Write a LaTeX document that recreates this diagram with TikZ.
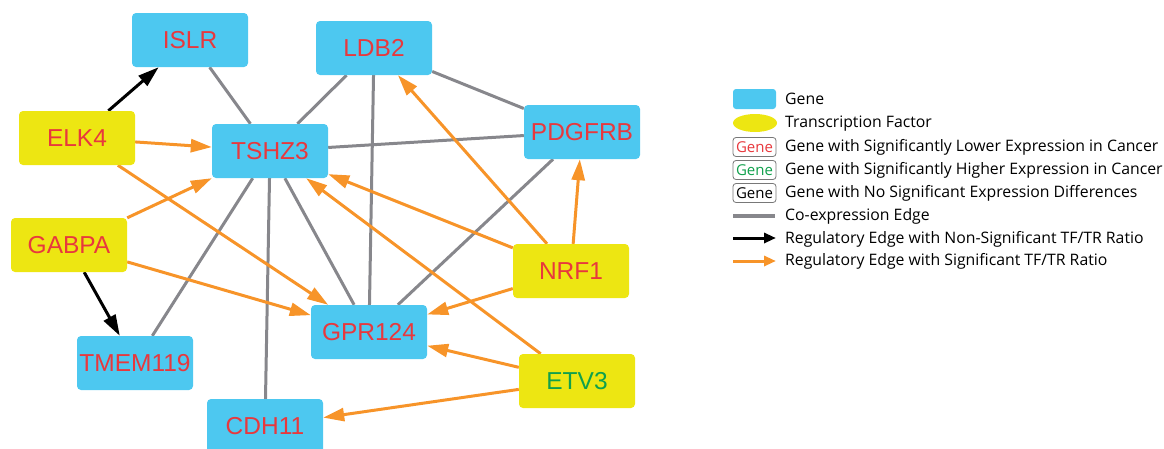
\documentclass[tikz,border=0pt]{standalone}
\usepackage{fontspec}
\setmainfont{Liberation Sans}
\newfontfamily\legendfont{Open Sans}
\usetikzlibrary{arrows.meta,backgrounds,shapes.geometric}

\definecolor{genefill}{RGB}{77,200,240}
\definecolor{tffill}{RGB}{237,230,18}
\definecolor{lowred}{RGB}{232,56,61}
\definecolor{highgreen}{RGB}{16,160,76}
\definecolor{edgeorange}{RGB}{247,148,41}
\definecolor{edgegray}{RGB}{135,135,140}
\definecolor{boxgray}{RGB}{120,120,120}

\tikzset{
  gene/.style={rounded corners=4pt, fill=genefill, minimum width=116pt,
    minimum height=54pt, inner sep=0pt, text=lowred,
    font=\fontsize{24.5}{24.5}\selectfont},
  tf/.style={gene, fill=tffill},
  coexp/.style={draw=edgegray, line width=3pt},
  regns/.style={draw=black, line width=3pt,
    -{Triangle[length=21pt,width=13pt]}},
  regsig/.style={draw=edgeorange, line width=3pt,
    -{Triangle[length=21pt,width=13pt]}},
  legtext/.style={anchor=west, inner sep=0pt, font=\legendfont\fontsize{15.8}{15.8}\selectfont},
  legbox/.style={draw=boxgray, line width=0.8pt, fill=white, rounded corners=3pt,
    minimum width=43pt, minimum height=19pt, inner sep=0pt,
    font=\legendfont\fontsize{15}{15}\selectfont},
}

\begin{document}
\begin{tikzpicture}[x=1pt,y=-1pt]
\useasboundingbox (0,0) rectangle (1164,448);

% genes
\node[gene] (islr)  at (190,40)  {ISLR};
\node[gene] (ldb2)  at (374,48)  {LDB2};
\node[gene] (tshz3) at (270,151) {TSHZ3};
\node[gene] (pdgfrb) at (582,132) {PDGFRB};
\node[gene] (gpr124) at (369,332) {GPR124};
\node[gene] (tmem)  at (135,363) {TMEM119};
\node[gene] (cdh11) at (265,426) {CDH11};

% transcription factors
\node[tf] (elk4)  at (77,138)  {ELK4};
\node[tf] (gabpa) at (69,245)  {GABPA};
\node[tf] (nrf1)  at (571,271) {NRF1};
\node[tf, text=highgreen] (etv3) at (577,381) {ETV3};

\begin{scope}[on background layer]
  % co-expression edges
  \draw[coexp] (islr) -- (tshz3);
  \draw[coexp] (ldb2) -- (tshz3);
  \draw[coexp] (ldb2) -- (gpr124);
  \draw[coexp] (ldb2) -- (pdgfrb);
  \draw[coexp] (tshz3) -- (pdgfrb);
  \draw[coexp] (tshz3) -- (tmem);
  \draw[coexp] (tshz3) -- (cdh11);
  \draw[coexp] (tshz3) -- (gpr124);
  \draw[coexp] (pdgfrb) -- (gpr124);
  % regulatory edges, non-significant ratio
  \draw[regns] (elk4) -- (islr);
  \draw[regns] (gabpa) -- (tmem);
  % regulatory edges, significant ratio
  \draw[regsig] (elk4) -- (tshz3);
  \draw[regsig] (elk4) -- (gpr124);
  \draw[regsig] (gabpa) -- (tshz3);
  \draw[regsig] (gabpa) -- (gpr124);
  \draw[regsig] (nrf1) -- (ldb2);
  \draw[regsig] (nrf1) -- (pdgfrb);
  \draw[regsig] (nrf1) -- (tshz3);
  \draw[regsig] (nrf1) -- (gpr124);
  \draw[regsig] (etv3) -- (tshz3);
  \draw[regsig] (etv3) -- (gpr124);
  \draw[regsig] (etv3) -- (cdh11);
\end{scope}

% legend
\node[fill=genefill, rounded corners=3pt, minimum width=43pt, minimum height=20pt, inner sep=0pt] (lgene) at (754.5,99) {};
\node[legtext] (tgene) at (785,99) {Gene};
\node[fill=tffill, ellipse, minimum width=44pt, minimum height=18pt, inner sep=0pt] (ltf) at (755,123) {};
\node[legtext] (ttf) at (785,124) {Transcription Factor};
\node[legbox, text=lowred] (llow) at (754.5,147) {Gene};
\node[legtext] (tlow) at (785,147) {Gene with Significantly Lower Expression in Cancer};
\node[legbox, text=highgreen] (lhigh) at (754.5,170) {Gene};
\node[legtext] (thigh) at (785,170) {Gene with Significantly Higher Expression in Cancer};
\node[legbox, text=black] (lnone) at (754.5,193) {Gene};
\node[legtext] (tnone) at (785,193) {Gene with No Significant Expression Differences};

\coordinate (c1a) at (733,216);
\coordinate (c1b) at (775,216);
\draw[draw=edgegray, line width=3.5pt] (c1a) -- (c1b);
\node[legtext] (tco) at (785,216) {Co-expression Edge};

\coordinate (c2a) at (733,238);
\coordinate (c2b) at (776,238);
\draw[draw=black, line width=3pt, -{Triangle[length=12pt,width=10pt]}] (c2a) -- (c2b);
\node[legtext] (tns) at (785,239) {Regulatory Edge with Non-Significant TF/TR Ratio};

\coordinate (c3a) at (733,261);
\coordinate (c3b) at (776,261);
\draw[draw=edgeorange, line width=3pt, -{Triangle[length=12pt,width=10pt]}] (c3a) -- (c3b);
\node[legtext] (tsig) at (785,261) {Regulatory Edge with Significant TF/TR Ratio};
\end{tikzpicture}
\end{document}
